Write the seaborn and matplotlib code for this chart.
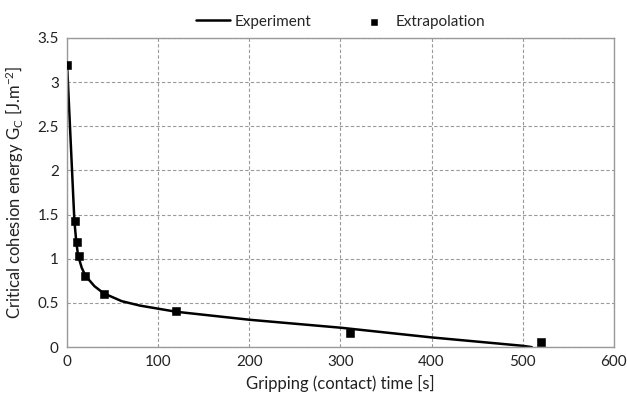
import pandas as pd
import seaborn as sns
import matplotlib.pyplot as plt

exp_time = [0, 8, 10, 12, 16, 20, 30, 40, 60, 80, 120, 200, 300, 400, 500, 510]
exp_gc = [3.2, 1.43, 1.2, 1.04, 0.9, 0.81, 0.69, 0.61, 0.52, 0.47, 0.40, 0.31, 0.22, 0.11, 0.015, 0.0]

# extrapolated points
ext_time = [0.3, 8.4, 11.3, 13.5, 19.4, 40, 120, 310, 520]
ext_gc = [3.19, 1.43, 1.19, 1.03, 0.80, 0.60, 0.41, 0.16, 0.055]

x_ticks = [0, 100, 200, 300, 400, 500, 600]
y_ticks = [0, 0.5, 1, 1.5, 2, 2.5, 3, 3.5]

exp_df = pd.DataFrame({"time": exp_time, "gc": exp_gc})
ext_df = pd.DataFrame({"time": ext_time, "gc": ext_gc})

sns.set_style("white")
plt.rcParams["font.family"] = ["Lato", "DejaVu Sans"]

fig = plt.figure(figsize=(6.27, 3.99), dpi=100)
ax = fig.add_axes([0.107, 0.130, 0.872, 0.775])

sns.lineplot(data=exp_df, x="time", y="gc", ax=ax, color="black", linewidth=1.8,
             label="Experiment", sort=False)
sns.scatterplot(data=ext_df, x="time", y="gc", ax=ax, color="black", marker="s",
                s=26, edgecolor="black", label="Extrapolation", zorder=5)

ax.set_xlim(0, 600)
ax.set_ylim(0, 3.5)
ax.set_xticks(x_ticks)
ax.set_yticks(y_ticks)
ax.set_yticklabels([f"{v:g}" for v in y_ticks])
ax.grid(True, linestyle=(0, (3, 2)), color="#999999", linewidth=0.8)
for s in ax.spines.values():
    s.set_color("#9a9a9a")
    s.set_linewidth(1.0)
ax.tick_params(axis="both", length=0, labelsize=11, colors="#222222", pad=6)

ax.set_xlabel("Gripping (contact) time [s]", fontsize=12, color="#222222", labelpad=4)
ax.set_ylabel(r"Critical cohesion energy G$\mathregular{_C}$ [J.m$\mathregular{^{-2}}$]",
              fontsize=12, color="#222222", labelpad=8)

ax.legend(loc="lower center", bbox_to_anchor=(0.5, 1.0), ncol=2, frameon=False,
          fontsize=11, handlelength=2.2, columnspacing=3.0, handletextpad=0.3,
          borderaxespad=0.2, markerscale=0.8)

fig.savefig("out.png", dpi=100)
